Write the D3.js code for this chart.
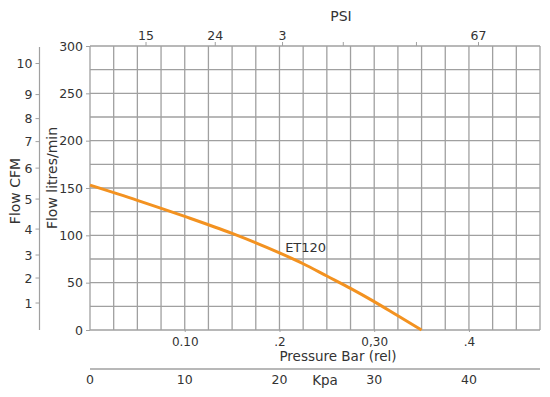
<!DOCTYPE html>
<html><head><meta charset="utf-8">
<script src="https://cdn.jsdelivr.net/npm/d3@7"></script>
<style>
html,body{margin:0;padding:0;background:#fff;}
text{font-family:"DejaVu Sans",sans-serif;fill:#333;}
</style></head>
<body><svg id="c" width="550" height="397"></svg>
<script>
// Data
const pressureBar = [0, 0.05, 0.10, 0.15, 0.20, 0.225, 0.25, 0.275, 0.30, 0.325, 0.35];
const flowLpm = [153, 137, 120, 102, 81.5, 70, 57, 44, 30, 15, 0];
const seriesName = "ET120";
const flowTicks = [0, 50, 100, 150, 200, 250, 300];
const barTicks = [0.10, 0.20, 0.30, 0.40];
const barTickLabels = ["0.10", ".2", "0,30", ".4"];
const kpaTicks = [0, 10, 20, 30, 40];
const psiTicks = [0.85, 1.91, 2.94, 3.87, 4.99, 5.94];
const psiTickLabels = ["15", "24", "3", "", "", "67"];
const cfmTickLabels = ["1", "2", "3", "4", "5", "6", "7", "8", "9", "10"];
const cfmTickPosLpm = [28.5, 54.9, 79.2, 106.6, 138.3, 171, 199, 223.3, 248.7, 281.5];

const svg = d3.select("#c");
const L = 90, R = 540, T = 46, B = 330;
const x = d3.scaleLinear().domain([0, 0.475]).range([L, R]);
const y = d3.scaleLinear().domain([0, 300]).range([B, T]);
const grid = "#a0a0a0";

// grid
const g = svg.append("g");
g.selectAll(".v").data(d3.range(0, 20).map(i => i * 0.025)).enter().append("line")
  .attr("x1", d => x(d)).attr("x2", d => x(d)).attr("y1", T).attr("y2", B)
  .attr("stroke", grid).attr("stroke-width", 1.3);
g.selectAll(".h").data(d3.range(0, 13).map(i => i * 25)).enter().append("line")
  .attr("x1", L).attr("x2", R).attr("y1", d => y(d)).attr("y2", d => y(d))
  .attr("stroke", grid).attr("stroke-width", 1.3);

// left litres axis
const ya = svg.append("g").attr("transform", `translate(${L},0)`)
  .call(d3.axisLeft(y).tickValues(flowTicks).tickSize(4).tickPadding(3));
ya.select(".domain").remove();
ya.selectAll("line").attr("stroke", grid);
ya.selectAll("text").style("font-size", "12.5px").attr("fill", "#333");

// CFM axis
const cfmX = 39.5;
svg.append("line").attr("x1", cfmX).attr("x2", cfmX).attr("y1", T + 1).attr("y2", B)
  .attr("stroke", grid).attr("stroke-width", 1.2);
cfmTickLabels.forEach((lab, i) => {
  const yy = y(cfmTickPosLpm[i]);
  svg.append("line").attr("x1", cfmX - 4).attr("x2", cfmX).attr("y1", yy).attr("y2", yy)
    .attr("stroke", grid);
  svg.append("text").attr("x", cfmX - 7).attr("y", yy).attr("dy", "0.36em")
    .attr("text-anchor", "end").style("font-size", "12.5px").text(lab);
});

// axis titles
svg.append("text").attr("transform", "translate(20,191) rotate(-90)")
  .attr("text-anchor", "middle").style("font-size", "14px").text("Flow CFM");
svg.append("text").attr("transform", "translate(57,178) rotate(-90)")
  .attr("text-anchor", "middle").style("font-size", "14px").text("Flow litres/min");

// bottom bar axis labels
const xa = svg.append("g").attr("transform", `translate(0,${B})`)
  .call(d3.axisBottom(x).tickValues(barTicks).tickSize(2).tickPadding(5)
    .tickFormat((d, i) => barTickLabels[i]));
xa.select(".domain").remove();
xa.selectAll("line").attr("stroke", grid);
xa.selectAll("text").style("font-size", "12px").attr("fill", "#333");
svg.append("text").attr("x", 338).attr("y", 361).attr("text-anchor", "middle")
  .style("font-size", "13.5px").text("Pressure Bar (rel)");

// Kpa axis
const kpa = d3.scaleLinear().domain([0, 47.5]).range([L, R]);
svg.append("line").attr("x1", L).attr("x2", R).attr("y1", 369).attr("y2", 369)
  .attr("stroke", grid).attr("stroke-width", 1.3);
svg.selectAll(".kpa").data(kpaTicks).enter().append("text")
  .attr("x", d => kpa(d)).attr("y", 384).attr("text-anchor", "middle")
  .style("font-size", "12.5px").text(d => d);
svg.append("text").attr("x", 325).attr("y", 385).attr("text-anchor", "middle")
  .style("font-size", "13.5px").text("Kpa");

// PSI axis (top)
const psi = d3.scaleLinear().domain([0, 0.475 / 0.0689476]).range([L, R]);
const pa = svg.append("g").attr("transform", `translate(0,${T})`)
  .call(d3.axisTop(psi).tickValues(psiTicks).tickSize(4).tickPadding(2)
    .tickFormat((d, i) => psiTickLabels[i]));
pa.select(".domain").remove();
pa.selectAll("line").attr("stroke", grid);
pa.selectAll("text").style("font-size", "12.5px").attr("fill", "#333");
svg.append("text").attr("x", 341).attr("y", 21).attr("text-anchor", "middle")
  .style("font-size", "14px").text("PSI");

// curve
const data = pressureBar.map((p, i) => [p, flowLpm[i]]);
svg.append("path").datum(data)
  .attr("d", d3.line().x(d => x(d[0])).y(d => y(d[1])).curve(d3.curveMonotoneX))
  .attr("fill", "none").attr("stroke", "#f39220").attr("stroke-width", 3);
svg.append("text").attr("x", x(0.206)).attr("y", y(85) + 2)
  .style("font-size", "13px").text(seriesName);
</script></body></html>
